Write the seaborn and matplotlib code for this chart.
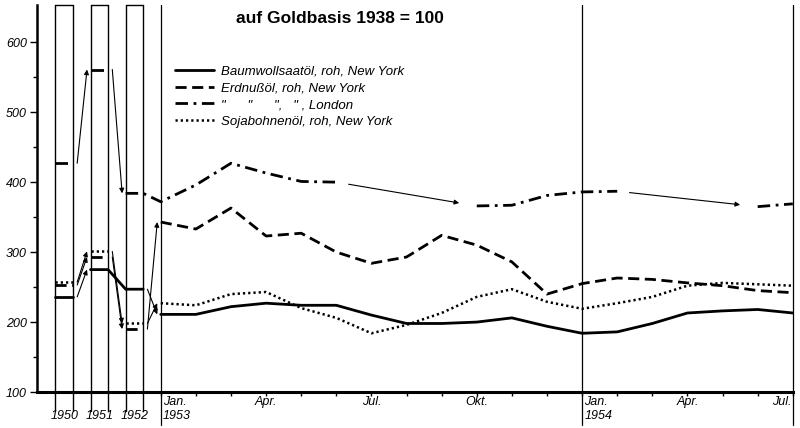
# Preisindex pflanzlicher Öle, auf Goldbasis 1938 = 100

import numpy as np
import pandas as pd
import matplotlib
matplotlib.use("Agg")
import matplotlib.pyplot as plt
import seaborn as sns
from matplotlib.lines import Line2D
from matplotlib.transforms import blended_transform_factory

sns.set_style("ticks")
plt.rcParams["font.family"] = ["Liberation Sans", "DejaVu Sans"]
plt.rcParams.update({"text.color": "black", "axes.edgecolor": "black",
                     "xtick.color": "black", "ytick.color": "black",
                     "axes.labelcolor": "black"})

# Jahresdurchschnitte 1950-1952
years = ["1950", "1951", "1952"]
year_baumwolle = [236, 275, 247]
year_erdnuss_ny = [253, 293, 190]
year_erdnuss_ldn = [427, 561, 384]
year_soja = [257, 301, 198]

# Monatswerte Jan. 1953 - Jul. 1954 (nan = keine Notierung)
nan = np.nan
baumwolle = [211, 211, 222, 227, 224, 224, 210, 198, 198, 200, 206, 194,
             184, 186, 198, 213, 216, 218, 213]
erdnuss_ny = [343, 333, 363, 323, 327, 300, 284, 293, 324, 310, 286, 240,
              255, 263, 261, 256, 252, 245, 242]
erdnuss_ldn = [372, 396, 427, 413, 401, 400, nan, nan, nan, 366, 367, 381,
               386, 387, nan, nan, nan, 365, 369]
soja = [227, 224, 240, 243, 220, 206, 184, 196, 213, 236, 247, 229,
        219, 227, 236, 252, 256, 254, 252]

month_labels = ["Jan.", "Apr.", "Jul.", "Okt.", "Jan.", "Apr.", "Jul."]
month_label_pos = [0, 3, 6, 9, 12, 15, 18]
jan_years = ["1953", "1954"]

labels = ["Baumwollsaatöl, roh, New York",
          "Erdnußöl, roh, New York",
          '"      "      ",   " , London',
          "Sojabohnenöl, roh, New York"]

styles = [dict(lw=2.0, ls="-"),
          dict(lw=2.0, ls=(0, (4, 2))),
          dict(lw=2.0, ls=(0, (4.5, 2, 1, 2))),
          dict(lw=1.8, ls=(0, (0.9, 1.2)))]

yearly = [year_baumwolle, year_erdnuss_ny, year_erdnuss_ldn, year_soja]
monthly = [baumwolle, erdnuss_ny, erdnuss_ldn, soja]
# transitions drawn as a line instead of an arrow: (series, from year index)
linked = {(0, 1), (2, 2)}

fig = plt.figure(figsize=(8, 4.28), dpi=100)
ax = fig.add_axes([0.046, 0.084, 0.945, 0.904])
trans = blended_transform_factory(ax.transData, ax.transAxes)

months = np.arange(len(baumwolle))
arrow_kw = dict(arrowstyle="-|>", lw=0.8, color="black", mutation_scale=7,
                shrinkA=0, shrinkB=0)

for s in range(4):
    xs, ys = [], []
    for i, v in enumerate(yearly[s]):
        xs += [-3 + i, -2.5 + i]
        ys += [v, v]
        if (s, i) not in linked:
            xs.append(nan)
            ys.append(nan)
            nxt_x = -2 + i if i < 2 else 0
            nxt_v = yearly[s][i + 1] if i < 2 else monthly[s][0]
            ax.annotate("", xy=(nxt_x - 0.1, nxt_v),
                        xytext=(-2.5 + i + 0.12, v), arrowprops=arrow_kw)
    xs += list(months)
    ys += list(monthly[s])
    df = pd.DataFrame({"x": xs, "y": ys})
    df["seg"] = df["y"].isna().cumsum()
    df = df.dropna()
    sns.lineplot(data=df, x="x", y="y", units="seg", estimator=None,
                 sort=False, color="black", ax=ax, **styles[s])

    # gaps in the monthly series bridged by a thin arrow
    vals = pd.Series(monthly[s])
    valid = vals.dropna().index.tolist()
    for a, b in zip(valid[:-1], valid[1:]):
        if b - a > 1:
            x0, x1 = a + 0.35, b - 0.5
            y0 = np.interp(x0, [a, b], [vals[a], vals[b]])
            y1 = np.interp(x1, [a, b], [vals[a], vals[b]])
            ax.annotate("", xy=(x1, y1), xytext=(x0, y0), arrowprops=arrow_kw)

# year boxes
for i in range(3):
    for x in (-3 + i, -2.5 + i):
        ax.plot([x, x], [-0.05, 1], transform=trans, color="black",
                lw=1.0, clip_on=False)
    ax.plot([-3 + i, -2.5 + i], [1, 1], transform=trans, color="black",
            lw=1.0, clip_on=False)
    ax.text(-2.75 + i, -0.063, years[i], transform=trans, ha="center",
            va="center", fontsize=9, style="italic")

for x in (0, 12, 18):
    ax.plot([x, x], [-0.085, 1], transform=trans, color="black",
            lw=0.9, clip_on=False)

ax.set_xlim(-3.53, 18)
ax.set_ylim(100, 653)
ax.set_xticks([])
ax.set_xticks(months, minor=True)
ax.set_yticks(range(100, 601, 100))
ax.set_yticks(range(150, 601, 100), minor=True)
ax.set_xlabel("")
ax.set_ylabel("")
ax.tick_params(axis="x", which="minor", length=3, width=1, direction="out")
ax.tick_params(axis="y", which="major", length=5, width=1, labelsize=9, pad=2)
ax.tick_params(axis="y", which="minor", length=3, width=1)
plt.setp(ax.get_yticklabels(), fontstyle="italic")

for sp in ("top", "right"):
    ax.spines[sp].set_visible(False)
ax.spines["left"].set_linewidth(1.8)
ax.spines["bottom"].set_linewidth(2.2)

for lab, pos in zip(month_labels, month_label_pos):
    if lab == "Jan.":
        ax.text(pos + 0.06, -0.027, lab, transform=trans, ha="left",
                va="center", fontsize=9, style="italic")
        ax.text(pos + 0.06, -0.063, jan_years[pos // 12], transform=trans,
                ha="left", va="center", fontsize=9, style="italic")
    elif pos == 18:
        ax.text(pos - 0.05, -0.027, lab, transform=trans, ha="right",
                va="center", fontsize=9, style="italic")
    else:
        ax.text(pos, -0.027, lab, transform=trans, ha="center",
                va="center", fontsize=9, style="italic")

handles = [Line2D([], [], color="black", **st) for st in styles]
ax.legend(handles, labels, loc="upper left", bbox_to_anchor=(0.1825, 0.845),
          frameon=False, prop=dict(style="italic", size=9.5),
          handlelength=3.0, handletextpad=0.5, labelspacing=0.35,
          borderpad=0, borderaxespad=0)

fig.text(0.425, 0.957, "auf Goldbasis 1938 = 100", ha="center", va="center",
         fontsize=12.5, fontweight="bold")

fig.savefig("out.png", dpi=100)
